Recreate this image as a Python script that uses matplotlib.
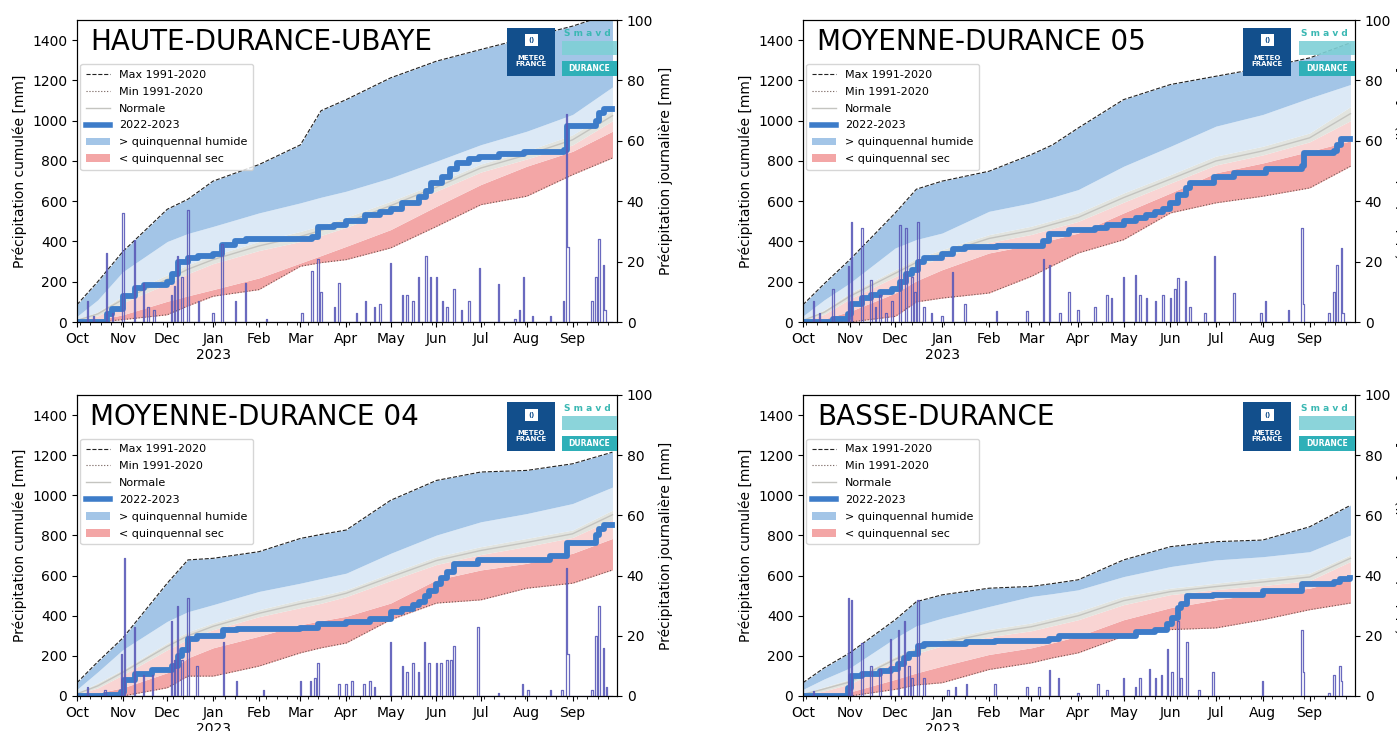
# Cumul de précipitations 2022-2023 par bassin, comparé aux statistiques 1991-2020
import numpy as np
import pandas as pd
import matplotlib
matplotlib.use('Agg')
import matplotlib.pyplot as plt
from matplotlib.lines import Line2D
from matplotlib.patches import Patch, Rectangle

# dates des points des enveloppes climatologiques
grid = ['2022-10-01', '2022-10-15', '2022-11-01', '2022-12-01', '2022-12-15', '2023-01-01',
        '2023-02-01', '2023-03-01', '2023-03-15', '2023-04-01', '2023-05-01', '2023-06-01',
        '2023-07-01', '2023-08-01', '2023-09-01', '2023-09-28']

# ---------------- HAUTE-DURANCE-UBAYE ----------------
hdu_max = [86, 200, 350, 560, 610, 700, 782, 880, 1050, 1105, 1213, 1296, 1354, 1412, 1470, 1535]
hdu_hum = [28, 110, 250, 400, 440, 475, 542, 592, 620, 650, 716, 799, 881, 948, 1031, 1168]
hdu_ghi = [10, 50, 130, 235, 285, 330, 400, 450, 480, 520, 600, 690, 785, 850, 930, 1050]
hdu_norm = [8, 40, 112, 212, 262, 310, 378, 425, 455, 495, 578, 670, 765, 830, 905, 1025]
hdu_glo = [5, 30, 95, 190, 240, 290, 355, 400, 430, 470, 555, 650, 745, 810, 880, 1000]
hdu_sec = [0, 10, 36, 103, 130, 161, 219, 293, 330, 376, 459, 575, 683, 774, 848, 948]
hdu_min = [0, 0, 12, 36, 80, 128, 161, 277, 295, 310, 368, 475, 583, 625, 732, 815]
hdu_cum_dates = ['2022-10-01', '2022-10-21', '2022-10-25', '2022-11-01', '2022-11-09', '2022-11-15',
                 '2022-12-01', '2022-12-04', '2022-12-08', '2022-12-15', '2022-12-22', '2023-01-01',
                 '2023-01-07', '2023-01-16', '2023-01-23', '2023-03-09', '2023-03-13', '2023-03-24',
                 '2023-04-01', '2023-04-14', '2023-04-24', '2023-05-01', '2023-05-09', '2023-05-20',
                 '2023-05-25', '2023-05-28', '2023-06-05', '2023-06-10', '2023-06-15', '2023-06-23',
                 '2023-06-30', '2023-07-13', '2023-07-30', '2023-08-26', '2023-08-28', '2023-09-17',
                 '2023-09-19', '2023-09-22', '2023-09-28']
hdu_cum = [0, 40, 65, 130, 170, 185, 200, 240, 300, 320, 330, 340, 385, 400, 410, 420, 470, 480,
           500, 530, 545, 560, 590, 620, 650, 690, 720, 760, 790, 810, 820, 835, 845, 855, 975, 1000,
           1040, 1060, 1060]
hdu_rain_dates = ['2022-10-08', '2022-10-12', '2022-10-21', '2022-10-25', '2022-11-01', '2022-11-09',
                  '2022-11-15', '2022-11-18', '2022-11-22', '2022-12-04', '2022-12-06', '2022-12-08',
                  '2022-12-11', '2022-12-15', '2022-12-22', '2023-01-01', '2023-01-07', '2023-01-16',
                  '2023-01-23', '2023-02-06', '2023-03-02', '2023-03-09', '2023-03-13', '2023-03-15',
                  '2023-03-24', '2023-03-27', '2023-04-08', '2023-04-14', '2023-04-20', '2023-04-24',
                  '2023-05-01', '2023-05-09', '2023-05-12', '2023-05-16', '2023-05-20', '2023-05-25',
                  '2023-05-28', '2023-06-01', '2023-06-05', '2023-06-08', '2023-06-13', '2023-06-18',
                  '2023-06-23', '2023-06-30', '2023-07-13', '2023-07-24', '2023-07-27', '2023-07-30',
                  '2023-08-05', '2023-08-17', '2023-08-26', '2023-08-28', '2023-08-29', '2023-09-14',
                  '2023-09-17', '2023-09-19', '2023-09-22', '2023-09-23']
hdu_rain = [7, 2, 23, 3, 36, 27, 13, 5, 4, 9, 12, 22, 15, 37, 7, 3, 26, 7, 13, 1, 3, 17, 21, 10, 5,
            13, 3, 7, 5, 6, 19.5, 9, 9, 7, 15, 22, 15, 15, 7, 5, 11, 4, 7, 18, 12.5, 1, 4, 15, 2, 2,
            7, 69, 25, 7, 15, 27.5, 19, 4]

# ---------------- MOYENNE-DURANCE 05 ----------------
md5_max = [86, 190, 310, 542, 660, 700, 749, 832, 880, 964, 1105, 1180, 1221, 1263, 1312, 1387]
md5_hum = [30, 110, 194, 368, 410, 442, 550, 592, 620, 658, 774, 873, 973, 1031, 1113, 1180]
md5_ghi = [10, 60, 144, 260, 315, 360, 434, 476, 505, 542, 641, 732, 824, 873, 939, 1070]
md5_norm = [8, 48, 128, 242, 296, 340, 415, 455, 485, 520, 618, 710, 800, 850, 915, 1035]
md5_glo = [5, 38, 115, 225, 278, 320, 395, 435, 465, 500, 595, 690, 780, 830, 895, 1000]
md5_sec = [0, 15, 53, 144, 205, 260, 343, 384, 410, 442, 542, 641, 741, 790, 848, 900]
md5_min = [0, 0, 0, 28, 100, 119, 144, 227, 280, 343, 409, 542, 592, 625, 666, 774]
md5_cum_dates = ['2022-10-01', '2022-10-21', '2022-10-31', '2022-11-02', '2022-11-09', '2022-11-15',
                 '2022-11-21', '2022-11-29', '2022-12-04', '2022-12-08', '2022-12-12', '2022-12-16',
                 '2022-12-20', '2023-01-01', '2023-01-08', '2023-01-16', '2023-02-06', '2023-03-09',
                 '2023-03-13', '2023-03-26', '2023-04-12', '2023-04-20', '2023-05-01', '2023-05-09',
                 '2023-05-16', '2023-05-22', '2023-05-27', '2023-06-01', '2023-06-06', '2023-06-11',
                 '2023-06-14', '2023-06-30', '2023-07-13', '2023-08-03', '2023-08-27', '2023-08-28',
                 '2023-09-17', '2023-09-19', '2023-09-22', '2023-09-28']
md5_cum = [0, 15, 40, 90, 120, 135, 150, 165, 200, 240, 260, 300, 320, 340, 365, 375, 380, 400,
           435, 455, 465, 480, 500, 515, 530, 545, 560, 590, 630, 665, 690, 720, 740, 760, 775, 840,
           850, 880, 910, 910]
md5_rain_dates = ['2022-10-08', '2022-10-12', '2022-10-21', '2022-10-31', '2022-11-02', '2022-11-09',
                  '2022-11-15', '2022-11-18', '2022-11-21', '2022-11-25', '2022-11-29', '2022-12-04',
                  '2022-12-08', '2022-12-12', '2022-12-14', '2022-12-16', '2022-12-20', '2022-12-25',
                  '2023-01-01', '2023-01-08', '2023-01-16', '2023-02-06', '2023-02-26', '2023-03-09',
                  '2023-03-13', '2023-03-20', '2023-03-26', '2023-04-01', '2023-04-12', '2023-04-20',
                  '2023-04-23', '2023-05-01', '2023-05-09', '2023-05-12', '2023-05-16', '2023-05-22',
                  '2023-05-27', '2023-06-01', '2023-06-04', '2023-06-06', '2023-06-11', '2023-06-14',
                  '2023-06-24', '2023-06-30', '2023-07-13', '2023-07-31', '2023-08-03', '2023-08-18',
                  '2023-08-27', '2023-08-28', '2023-09-14', '2023-09-17', '2023-09-19', '2023-09-22',
                  '2023-09-23']
md5_rain = [7, 3, 11, 18.5, 33, 31, 14, 5, 9, 3, 7, 32, 31, 15, 10, 33, 5, 3, 2, 16.5, 6, 3.5, 3.5,
            21, 19, 3, 10, 4, 5, 9, 8, 15, 15.5, 9, 8, 7, 9, 8, 11, 14.5, 13.5, 5, 3, 22, 9.6, 3, 7,
            4, 31, 6, 3, 10, 19, 24.5, 3]

# ---------------- MOYENNE-DURANCE 04 ----------------
md4_max = [66, 170, 289, 562, 678, 686, 719, 785, 805, 827, 975, 1074, 1116, 1124, 1157, 1215]
md4_hum = [33, 120, 231, 372, 420, 455, 521, 562, 585, 612, 711, 802, 868, 909, 959, 1041]
md4_ghi = [15, 65, 132, 264, 320, 364, 430, 479, 500, 529, 612, 694, 744, 785, 827, 926]
md4_norm = [11, 50, 118, 247, 300, 347, 412, 460, 480, 512, 593, 675, 725, 765, 808, 903]
md4_glo = [8, 40, 105, 230, 282, 330, 395, 440, 462, 495, 575, 655, 705, 745, 790, 880]
md4_sec = [0, 15, 41, 116, 190, 240, 298, 355, 375, 397, 463, 579, 628, 661, 711, 785]
md4_min = [0, 0, 0, 41, 99, 99, 149, 215, 240, 264, 380, 463, 479, 537, 562, 628]
md4_cum_dates = ['2022-10-01', '2022-10-20', '2022-10-31', '2022-11-02', '2022-11-09', '2022-11-21',
                 '2022-12-04', '2022-12-08', '2022-12-11', '2022-12-15', '2022-12-21', '2023-01-08',
                 '2023-01-17', '2023-03-01', '2023-03-13', '2023-04-01', '2023-04-17', '2023-05-01',
                 '2023-05-09', '2023-05-16', '2023-05-20', '2023-05-24', '2023-05-27', '2023-06-01',
                 '2023-06-04', '2023-06-08', '2023-06-13', '2023-06-29', '2023-08-17', '2023-08-28',
                 '2023-09-17', '2023-09-19', '2023-09-22', '2023-09-28']
md4_cum = [0, 5, 20, 80, 110, 130, 150, 200, 230, 285, 300, 330, 335, 340, 360, 370, 385, 420, 435,
           455, 470, 500, 525, 560, 590, 620, 660, 680, 700, 760, 800, 830, 850, 850]
md4_rain_dates = ['2022-10-08', '2022-10-20', '2022-10-31', '2022-11-02', '2022-11-09', '2022-11-15',
                  '2022-11-21', '2022-12-04', '2022-12-06', '2022-12-08', '2022-12-11', '2022-12-15',
                  '2022-12-21', '2023-01-08', '2023-01-17', '2023-02-04', '2023-03-01', '2023-03-08',
                  '2023-03-11', '2023-03-13', '2023-03-27', '2023-04-01', '2023-04-05', '2023-04-13',
                  '2023-04-17', '2023-04-20', '2023-05-01', '2023-05-09', '2023-05-12', '2023-05-16',
                  '2023-05-20', '2023-05-24', '2023-05-27', '2023-06-01', '2023-06-04', '2023-06-08',
                  '2023-06-11', '2023-06-13', '2023-06-29', '2023-07-13', '2023-07-29', '2023-08-02',
                  '2023-08-17', '2023-08-25', '2023-08-28', '2023-08-29', '2023-09-14', '2023-09-17',
                  '2023-09-19', '2023-09-22', '2023-09-24']
md4_rain = [3, 2, 14, 46, 23, 7, 7, 25, 12, 30, 12, 32.5, 10, 18, 5, 2, 5, 5, 6, 11, 4, 4, 5, 4, 5,
            3, 18, 10, 8, 11, 8, 18, 11, 11, 11, 12, 12, 16.5, 23, 1, 4, 2, 2, 2, 42.5, 14, 2, 20,
            30, 16, 3]

# ---------------- BASSE-DURANCE ----------------
bd_max = [66, 140, 215, 380, 470, 504, 537, 546, 560, 579, 678, 744, 769, 777, 843, 950]
bd_hum = [33, 85, 140, 289, 350, 388, 446, 496, 510, 529, 595, 645, 678, 694, 719, 802]
bd_ghi = [10, 45, 83, 198, 245, 281, 331, 364, 390, 421, 496, 537, 562, 587, 612, 703]
bd_norm = [8, 35, 70, 183, 228, 265, 313, 345, 370, 400, 475, 520, 545, 568, 593, 686]
bd_glo = [5, 25, 60, 170, 212, 250, 295, 325, 350, 380, 455, 505, 530, 550, 575, 670]
bd_sec = [0, 8, 20, 83, 115, 149, 207, 240, 265, 298, 380, 440, 479, 512, 537, 590]
bd_min = [0, 0, 0, 33, 55, 66, 132, 165, 190, 215, 298, 331, 339, 380, 430, 463]
bd_cum_dates = ['2022-10-01', '2022-10-31', '2022-11-02', '2022-11-09', '2022-11-21', '2022-11-28',
                '2022-12-03', '2022-12-07', '2022-12-10', '2022-12-16', '2022-12-20', '2023-01-17',
                '2023-02-05', '2023-03-13', '2023-03-19', '2023-05-09', '2023-05-22', '2023-05-30',
                '2023-06-02', '2023-06-06', '2023-06-08', '2023-06-12', '2023-06-29', '2023-08-01',
                '2023-08-27', '2023-09-17', '2023-09-21', '2023-09-28']
bd_cum = [0, 40, 100, 110, 125, 135, 160, 190, 210, 250, 260, 268, 272, 285, 300, 320, 330, 360,
          390, 440, 460, 500, 505, 525, 560, 570, 585, 590]
bd_rain_dates = ['2022-10-08', '2022-10-31', '2022-11-02', '2022-11-09', '2022-11-15', '2022-11-21',
                 '2022-11-28', '2022-12-03', '2022-12-07', '2022-12-10', '2022-12-12', '2022-12-16',
                 '2022-12-20', '2023-01-05', '2023-01-10', '2023-01-17', '2023-02-05', '2023-02-26',
                 '2023-03-06', '2023-03-13', '2023-03-19', '2023-04-01', '2023-04-14', '2023-04-20',
                 '2023-05-01', '2023-05-09', '2023-05-12', '2023-05-18', '2023-05-22', '2023-05-26',
                 '2023-05-30', '2023-06-02', '2023-06-06', '2023-06-08', '2023-06-12', '2023-06-20',
                 '2023-06-29', '2023-08-01', '2023-08-27', '2023-08-28', '2023-09-14', '2023-09-17',
                 '2023-09-21', '2023-09-22']
bd_rain = [1.5, 32.5, 32, 17.5, 10, 9, 19, 22, 25, 10, 6, 32, 6, 2, 3, 4, 4, 3, 3, 8.5, 6, 1, 4, 2,
           6, 3, 6, 9, 6, 7, 15.6, 8, 24.8, 6, 18, 2, 8, 5, 22, 8, 1, 7, 10, 5]

titles = ['HAUTE-DURANCE-UBAYE', 'MOYENNE-DURANCE 05', 'MOYENNE-DURANCE 04', 'BASSE-DURANCE']
month_labels = ['Oct', 'Nov', 'Dec', 'Jan\n2023', 'Feb', 'Mar', 'Apr', 'May', 'Jun', 'Jul', 'Aug', 'Sep']

# couleurs
C_HUM = '#a3c5e7'
C_LBLUE = '#dce9f6'
C_GRAY = '#e2e4df'
C_PINK = '#f9d4d3'
C_SEC = '#f3a6a6'
C_OBS = '#3d7cc9'
C_RAIN = '#5a5ab8'

panels = [
    (titles[0], hdu_max, hdu_hum, hdu_ghi, hdu_norm, hdu_glo, hdu_sec, hdu_min,
     hdu_cum_dates, hdu_cum, hdu_rain_dates, hdu_rain),
    (titles[1], md5_max, md5_hum, md5_ghi, md5_norm, md5_glo, md5_sec, md5_min,
     md5_cum_dates, md5_cum, md5_rain_dates, md5_rain),
    (titles[2], md4_max, md4_hum, md4_ghi, md4_norm, md4_glo, md4_sec, md4_min,
     md4_cum_dates, md4_cum, md4_rain_dates, md4_rain),
    (titles[3], bd_max, bd_hum, bd_ghi, bd_norm, bd_glo, bd_sec, bd_min,
     bd_cum_dates, bd_cum, bd_rain_dates, bd_rain),
]

# position des axes (fraction de figure)
positions = [
    [0.0551, 0.5595, 0.3865, 0.413],
    [0.5748, 0.5595, 0.3951, 0.413],
    [0.0551, 0.0479, 0.3865, 0.4118],
    [0.5748, 0.0479, 0.3951, 0.4118],
]

fig = plt.figure(figsize=(13.97, 7.31), dpi=100)
x = pd.to_datetime(grid)
month_ticks = pd.date_range('2022-10-01', '2023-09-01', freq='MS')
week_ticks = pd.date_range('2022-10-03', '2023-09-30', freq='7D')
days = pd.date_range('2022-10-01', '2023-09-28', freq='D')


def draw_logos(ax):
    # logo Météo-France (approximation)
    ax.add_patch(Rectangle((0.797, 0.815), 0.088, 0.16, transform=ax.transAxes,
                           facecolor='#124f8c', edgecolor='none', zorder=10))
    ax.add_patch(Rectangle((0.829, 0.915), 0.024, 0.04, transform=ax.transAxes,
                           facecolor='white', edgecolor='none', zorder=11))
    ax.text(0.841, 0.935, '()', transform=ax.transAxes, fontsize=5, color='#124f8c',
            ha='center', va='center', fontweight='bold', zorder=12)
    ax.text(0.841, 0.865, 'METEO\nFRANCE', transform=ax.transAxes, fontsize=5, color='white',
            ha='center', va='center', fontweight='bold', linespacing=1.0, zorder=12)
    # logo Smavd (approximation)
    ax.text(0.945, 0.955, 'S m a v d', transform=ax.transAxes, fontsize=6.5, color='#3bb8b3',
            ha='center', va='center', fontweight='bold', zorder=12)
    ax.add_patch(Rectangle((0.898, 0.885), 0.102, 0.045, transform=ax.transAxes,
                           facecolor='#7fd0d6', edgecolor='none', alpha=0.9, zorder=10))
    ax.add_patch(Rectangle((0.898, 0.815), 0.102, 0.05, transform=ax.transAxes,
                           facecolor='#2fb0b8', edgecolor='none', zorder=10))
    ax.text(0.949, 0.84, 'DURANCE', transform=ax.transAxes, fontsize=5.5, color='white',
            ha='center', va='center', fontweight='bold', zorder=12)


for pos, (title, vmax, hum, ghi, norm, glo, sec, vmin, cdates, cum, rdates, rain) in zip(positions, panels):
    ax = fig.add_axes(pos)
    ax.fill_between(x, vmin, sec, color=C_SEC, lw=0)
    ax.fill_between(x, sec, glo, color=C_PINK, lw=0)
    ax.fill_between(x, glo, ghi, color=C_GRAY, lw=0)
    ax.fill_between(x, ghi, hum, color=C_LBLUE, lw=0)
    ax.fill_between(x, hum, vmax, color=C_HUM, lw=0)
    ax.plot(x, vmax, ls='--', color='#222222', lw=0.8)
    ax.plot(x, vmin, ls=':', color='#6e5a55', lw=0.8)
    ax.plot(x, norm, color='#c4c4c0', lw=1.0)
    ax.plot(pd.to_datetime(cdates), cum, drawstyle='steps-post', color=C_OBS, lw=4.2)

    ax.set_ylim(0, 1500)
    ax.set_yticks(range(0, 1401, 200))
    ax.set_xlim(pd.Timestamp('2022-10-01'), pd.Timestamp('2023-10-01'))
    ax.set_xticks(month_ticks)
    ax.set_xticklabels(month_labels)
    ax.set_xticks(week_ticks, minor=True)
    ax.tick_params(labelsize=10)
    ax.set_ylabel('Précipitation cumulée [mm]', fontsize=10)

    # pluie journalière sur l'axe secondaire
    daily = pd.Series(0.0, index=days)
    daily[pd.to_datetime(rdates)] = rain
    ax2 = ax.twinx()
    ax2.plot(daily.index, daily.values, drawstyle='steps-mid', color=C_RAIN, lw=0.9, alpha=0.9)
    ax2.set_ylim(0, 100)
    ax2.set_yticks(range(0, 101, 20))
    ax2.tick_params(labelsize=10)
    ax2.set_ylabel('Précipitation journalière [mm]', fontsize=10)

    ax2.text(0.025, 0.927, title, transform=ax.transAxes, fontsize=20, va='center', ha='left',
             zorder=12)
    draw_logos(ax2)

    handles = [
        Line2D([], [], ls='--', color='#222222', lw=0.8),
        Line2D([], [], ls=':', color='#6e5a55', lw=0.8),
        Line2D([], [], color='#c4c4c0', lw=1.0),
        Line2D([], [], color=C_OBS, lw=4),
        Patch(facecolor=C_HUM, edgecolor='none'),
        Patch(facecolor=C_SEC, edgecolor='none'),
    ]
    labels = ['Max 1991-2020', 'Min 1991-2020', 'Normale', '2022-2023',
              '> quinquennal humide', '< quinquennal sec']
    leg = ax2.legend(handles, labels, loc='upper left', bbox_to_anchor=(0.0, 0.865),
                     fontsize=8, frameon=True, borderpad=0.5, labelspacing=0.62,
                     handlelength=2.2, handletextpad=0.8, borderaxespad=0.3)
    leg.get_frame().set_alpha(0.8)
    leg.set_zorder(13)

fig.savefig('out.png', dpi=100)
